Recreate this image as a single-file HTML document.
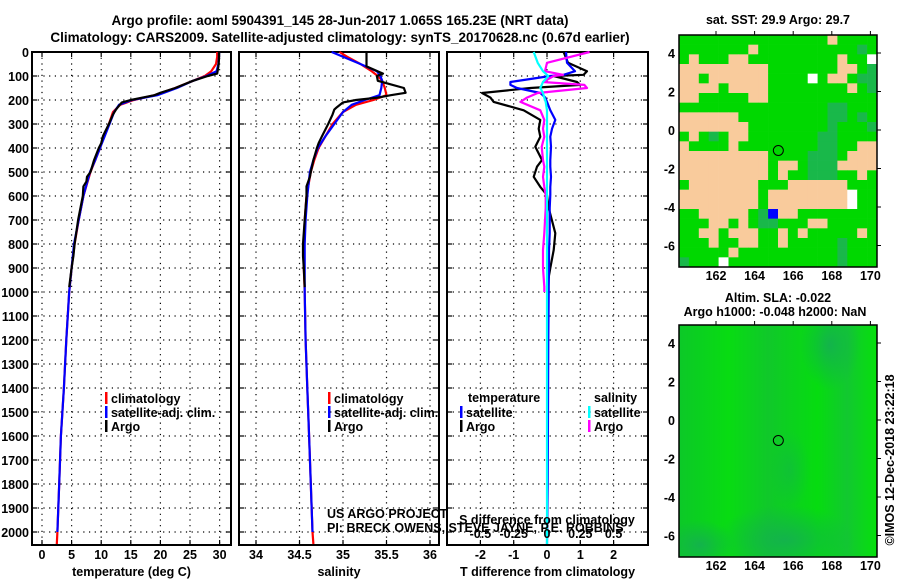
<!DOCTYPE html>
<html><head><meta charset="utf-8"><style>
body{margin:0;background:#fff;}
svg{display:block;font-family:"Liberation Sans",sans-serif;}
.b{font-weight:bold;font-size:12.5px;}
.t{font-weight:bold;font-size:13.5px;}
</style></head><body>
<svg id="chart" width="900" height="580" viewBox="0 0 900 580" xmlns="http://www.w3.org/2000/svg">
<text class="t" x="340" y="25" text-anchor="middle">Argo profile: aoml 5904391_145 28-Jun-2017 1.065S 165.23E (NRT data)</text>
<text class="t" x="340" y="42" text-anchor="middle">Climatology: CARS2009. Satellite-adjusted climatology: synTS_20170628.nc (0.67d earlier)</text>
<g id="g"></g>
</svg>
<script>
const climDepth=[0,20,50,80,100,120,150,180,200,220,250,300,350,400,450,500,600,700,800,900,1000,1200,1400,1600,1800,2000,2050];
const tempClim=[29.6,29.6,29.4,28.6,27.5,25.5,22.5,19,15.5,13.2,12,11.3,10.5,9.8,9,8.2,7,6.2,5.5,5,4.6,4.1,3.7,3.2,2.9,2.6,2.5];
const tempSat=[29.9,29.9,29.8,29.5,27.8,25.5,22.8,19.5,15.2,13,12.2,11.4,10.6,9.8,9,8.1,7,6.2,5.4,5,4.6,4.1,3.7,3.2,2.9,2.6,null];
const salClim=[34.96,35.05,35.2,35.33,35.4,35.45,35.48,35.5,35.35,35.15,35.0,34.88,34.8,34.72,34.67,34.63,34.58,34.56,34.55,34.55,34.56,34.57,34.59,34.61,34.63,34.65,34.66];
const salSat=[34.87,35.0,35.2,35.39,35.43,35.45,35.44,35.42,35.25,35.1,35.0,34.9,34.8,34.71,34.66,34.62,34.59,34.57,34.56,34.56,34.56,34.57,34.59,34.61,34.63,34.65,null];
const argoDepth=[0,30,60,90,100,120,150,170,180,190,200,210,230,240,260,300,350,380,400,450,500,520,540,560,600,700,800,850,900,980];
const tempArgo=[29.9,29.9,29.8,29.6,28,25.5,22.5,20,19,17,15,13.5,12.8,12.5,12,11.3,10.3,10,9.6,8.8,8.2,7.6,7.5,7,6.9,6.1,5.5,5.3,5,4.6];
const salArgo=[35.27,35.27,35.27,35.46,35.39,35.4,35.7,35.72,35.55,35.4,35.15,35.0,34.93,34.9,34.88,34.83,34.76,34.72,34.7,34.66,34.63,34.62,34.6,34.58,34.58,34.56,34.54,34.54,34.55,34.56];
const diffDepth=[0,45,80,95,100,125,137,150,171,190,208,243,283,320,353,395,450,478,520,562,596,650,755,825,900,978,1000,1200,1500,1800,2050];
const tDiffArgo=[0.5,0.63,1.2,1.1,0.2,0.9,1.0,-0.5,-1.95,-1.7,-1.6,-0.7,-0.2,-0.25,-0.2,-0.35,-0.15,-0.3,-0.4,-0.2,0,0.05,0.25,0.2,0.1,0,null,null,null,null,null];
const tDiffSat=[0.57,0.6,0.84,0.5,0.1,-1.1,-1.1,-0.9,-0.2,-0.05,0,0.1,0.25,0.15,0.1,0.12,0.1,0.1,0.12,0.1,0.1,0.08,0.08,0.06,0.06,0.05,0.05,0.04,0.03,0.02,0.0];
const sDiffArgo=[0.32,0.0,-0.015,0.12,0.05,-0.03,0.28,0.3,-0.07,-0.15,-0.2,-0.05,-0.02,-0.03,-0.02,-0.04,-0.03,-0.02,-0.03,-0.02,-0.01,-0.01,-0.02,-0.03,-0.03,-0.02,-0.02,null,null,null,null];
const sDiffSat=[-0.1,-0.07,-0.03,0,0.01,-0.03,-0.04,-0.05,-0.03,-0.02,-0.01,0,0,0,0,0,0,0,0,0,0,0,0,0,0,0,0,0,0,0,0];
const depthTicks=[0,100,200,300,400,500,600,700,800,900,1000,1100,1200,1300,1400,1500,1600,1700,1800,1900,2000];
const tempTicks=[0,5,10,15,20,25,30];
const salTicks=[34,34.5,35,35.5,36];
const salTickLabels=["34","34.5","35","35.5","36"];
const tdTicks=[-2,-1,0,1,2];
const sdTicks=[-0.5,-0.25,0,0.25,0.5];
const lonTicks=[162,164,166,168,170];
const latTicks=[4,2,0,-2,-4,-6];
const sstRows=[
"GGGGGGGGGGGGGGGTGGGG","GGGGGGGTGGGGGGGGGGDG","GTGGGTTGGGGGGGGGTGGW","TTTTTTTTTGGGGGGGTTGD",
"TTGTTTTTTGGGGWGTTGDD","TTTTGTTTTGGGGGGGGTGD","TTGGGGGTTGGGGGGGGGGG","GGGGGGGGGGGGGGGDDGGG",
"TTTTTTGGGGGGGGGDDGDG","TTTTTTTGGGGGGGGDGGGD","GTGDGTTGGGGGGGDDGGGG","TGGGGTGGGGGGGGDDGGTT",
"TTTTTTTTTGGGGDDDGTTT","TTTTTTTTTGTTGDDDTTTT","TTTTTTTTTGTGGDDDGGTG","GTTTTTTTGGGTTTTTTGGG",
"TTTTTTTTGTTTTTTTTWGG","TTTTTTTTGTTTTTTTTWGG","GGTTTTTGDBTTGGGGGGGG","GGGTTGTGDDGGGTTGGGGG",
"GGTTGTTTGGTGTGGGGGTG","GGGTGGTTGGTGGGGGDGGG","GGGGGTGGGGGGGGGGDGGG","DGGGWGGGGGGGGGGGDGGG"];
const argoLon=165.23, argoLat=-1.065;

const NS='http://www.w3.org/2000/svg';
const G=document.getElementById('g');
function mk(tag,at,parent){const e=document.createElementNS(NS,tag);for(const k in at)e.setAttribute(k,at[k]);(parent||G).appendChild(e);return e;}
function tx(x,y,s,anchor,cls,parent){const e=mk('text',{x:x,y:y,'text-anchor':anchor||'middle','class':cls||'b'},parent);e.textContent=s;return e;}
const yD=d=>52+d*0.24;
const TOP=52,BOT=545;
const panels=[
 {x0:32,x1:231,f:v=>42+v*5.92,ticks:tempTicks,labels:tempTicks.map(String),title:'temperature (deg C)',name:'temperature'},
 {x0:239,x1:439,f:v=>343+(v-35)*87,ticks:salTicks,labels:salTickLabels,title:'salinity',name:'salinity'},
 {x0:447,x1:648,f:v=>547+v*33.3,ticks:tdTicks,labels:tdTicks.map(String),title:'T difference from climatology',name:'difference'}];
panels.forEach((p,i)=>{
 const g=mk('g',{});
 
 
 depthTicks.forEach(d=>{const y=yD(d);
  mk('line',{x1:p.x0,x2:p.x1,y1:y,y2:y,stroke:'#000','stroke-width':1.2,'stroke-dasharray':'1.2 4.5'},g);
  mk('line',{x1:p.x0,x2:p.x0+5,y1:y,y2:y,stroke:'#000','stroke-width':1.2},g);
  mk('line',{x1:p.x1-5,x2:p.x1,y1:y,y2:y,stroke:'#000','stroke-width':1.2},g);
  if(i==0){const t=tx(29,y+5,String(d),'end');}
 });
 p.ticks.forEach((v,k)=>{const x=p.f(v);
  mk('line',{x1:x,x2:x,y1:TOP,y2:BOT,stroke:'#000','stroke-width':1.2,'stroke-dasharray':'1.2 4.5'},g);
  mk('line',{x1:x,x2:x,y1:BOT-5,y2:BOT,stroke:'#000','stroke-width':1.2},g);
  mk('line',{x1:x,x2:x,y1:TOP,y2:TOP+5,stroke:'#000','stroke-width':1.2},g);
  const t=tx(x,559,p.labels[k],'middle','b',g);
  
  
 });
 mk('rect',{x:p.x0,y:TOP,width:p.x1-p.x0,height:BOT-TOP,fill:'none',stroke:'#000','stroke-width':2},g);
 const at=tx((p.x0+p.x1)/2,576,p.title,'middle','b',g);
 
 
});
function line(depths,vals,f,color,name){
 let d='',pen=false;
 depths.forEach((dep,i)=>{const v=vals[i];if(v===null||v===undefined){pen=false;return;}
  d+=(pen?'L':'M')+f(v).toFixed(1)+' '+yD(dep).toFixed(1)+' ';pen=true;});
 const e=mk('path',{d:d,fill:'none',stroke:color,'stroke-width':2.2,'stroke-linejoin':'round'});
 
 
}
const P=panels;
line(climDepth,tempClim,P[0].f,'#f00','temp-climatology-line');
line(climDepth,tempSat,P[0].f,'#00f','temp-satellite-line');
line(argoDepth,tempArgo,P[0].f,'#000','temp-argo-line');
line(climDepth,salClim,P[1].f,'#f00','sal-climatology-line');
line(climDepth,salSat,P[1].f,'#00f','sal-satellite-line');
line(argoDepth,salArgo,P[1].f,'#000','sal-argo-line');
const fs=v=>547+v*133.2;
line(diffDepth,tDiffArgo,P[2].f,'#000','tdiff-argo-line');
line(diffDepth,tDiffSat,P[2].f,'#00f','tdiff-satellite-line');
line(diffDepth,sDiffArgo,fs,'#f0f','sdiff-argo-line');
line(diffDepth,sDiffSat,fs,'#0ff','sdiff-satellite-line');
function leg(x,y,color,label){const g=mk('g',{});
 
 
 mk('rect',{x:x,y:y-11,width:2.5,height:12,fill:color},g);tx(x+6,y,label,'start','b',g);}
leg(105,403,'#f00','climatology');leg(105,417,'#00f','satellite-adj. clim.');leg(105,431,'#000','Argo');
leg(328,403,'#f00','climatology');leg(328,417,'#00f','satellite-adj. clim.');leg(328,431,'#000','Argo');
tx(468,402,'temperature','start');
leg(460,417,'#00f','satellite');leg(460,431,'#000','Argo');
tx(594,402,'salinity','start');
leg(588,417,'#0ff','satellite');leg(588,431,'#f0f','Argo');
let e=tx(327,518,'US ARGO PROJECT','start','');e.setAttribute('style','font-size:12.5px');


e=tx(327,532,'PI: BRECK OWENS, STEVE JAYNE, P.E. ROBBINS','start','');e.setAttribute('style','font-size:12.5px');


e=tx(547,524,'S difference from climatology','middle','b');


sdTicks.forEach(v=>{const t=tx(fs(v),538,String(v),'middle','b');
 
 });
// maps
const mX=v=>716+(v-162)*19.3;
function mapAxes(top,name,g){
 const mY=v=>top+95+(0-v)*19.25;
 mk('rect',{x:679,y:top,width:198,height:232,fill:'none',stroke:'#000','stroke-width':1.5},g);
 lonTicks.forEach(v=>{const x=mX(v);
  mk('line',{x1:x,x2:x,y1:top-4,y2:top,stroke:'#000','stroke-width':1},g);
  const t=tx(x,top+245,String(v),'middle','b',g);
  
  });
 latTicks.forEach(v=>{const y=mY(v);
  mk('line',{x1:877,x2:881,y1:y,y2:y,stroke:'#000','stroke-width':1},g);
  const t=tx(675,y+5,String(v),'end','b',g);
  
  });
 mk('circle',{cx:mX(argoLon),cy:mY(argoLat),r:5,fill:'none',stroke:'#000','stroke-width':1},g);
}
const m1=mk('g',{});


const cols={G:'#00d800',T:'#f9cb9c',D:'#19b84a',W:'#ffffff',B:'#0000ff'};
const cw=198/20, ch=232/24;
sstRows.forEach((row,r)=>{[...row].forEach((c,k)=>{
 mk('rect',{x:(679+k*cw).toFixed(2),y:(35+r*ch).toFixed(2),width:(cw+0.3).toFixed(2),height:(ch+0.3).toFixed(2),fill:cols[c]},m1);});});
mapAxes(35,'sst',m1);
e=tx(778,24,'sat. SST: 29.9 Argo: 29.7','middle','b');


const defs=mk('defs',{});
defs.innerHTML='<clipPath id="mc"><rect x="679" y="325" width="198" height="232"/></clipPath><linearGradient id="lg" x1="0" x2="1" y1="0" y2="0"><stop offset="0" stop-color="#0cc828"/><stop offset="0.25" stop-color="#08dc12"/><stop offset="0.45" stop-color="#10c82a"/><stop offset="0.7" stop-color="#06dc10"/><stop offset="0.85" stop-color="#12c830"/><stop offset="1" stop-color="#06e00c"/></linearGradient><radialGradient id="rg1"><stop offset="0" stop-color="#14b050" stop-opacity="0.9"/><stop offset="1" stop-color="#14b050" stop-opacity="0"/></radialGradient>';
const m2=mk('g',{});


const m2c=mk('g',{'clip-path':'url(#mc)'},m2);
mk('rect',{x:679,y:325,width:198,height:232,fill:'url(#lg)'},m2c);
mk('ellipse',{cx:785,cy:540,rx:70,ry:35,fill:'url(#rg1)'},m2c);
mk('ellipse',{cx:830,cy:345,rx:30,ry:45,fill:'url(#rg1)'},m2c);
mk('ellipse',{cx:700,cy:545,rx:35,ry:25,fill:'url(#rg1)'},m2c);
mk('ellipse',{cx:790,cy:470,rx:20,ry:40,fill:'url(#rg1)','opacity':0.5},m2c);
mapAxes(325,'sla',m2);
e=tx(778,302,'Altim. SLA: -0.022','middle','b');


e=tx(775,316,'Argo h1000: -0.048 h2000: NaN','middle','b');


e=tx(0,0,'©IMOS 12-Dec-2018 23:22:18','middle','');
e.setAttribute('style','font-size:12.5px');
e.setAttribute('transform','translate(894,460) rotate(-90)');


</script>
</body></html>
